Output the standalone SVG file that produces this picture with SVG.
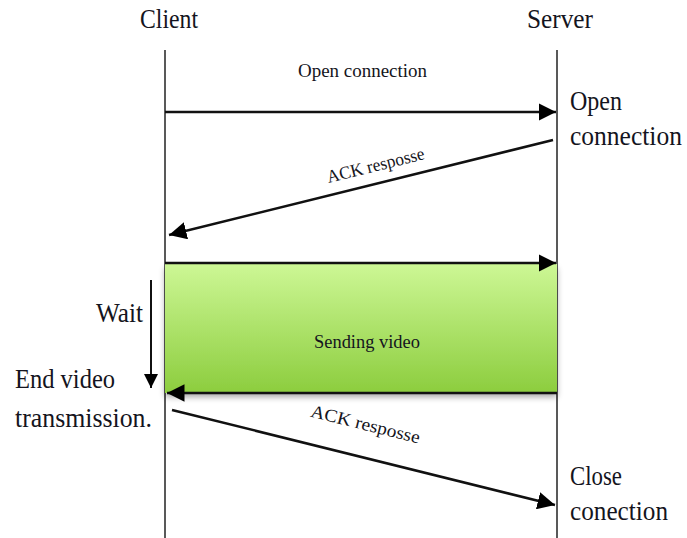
<svg xmlns="http://www.w3.org/2000/svg" width="687" height="538" viewBox="0 0 687 538">
<style>
.t{font-family:"Liberation Serif","DejaVu Serif",serif;fill:#141420}
.big{font-size:27px}
.sm{font-size:18px}
.ln{stroke:#111;stroke-width:2.5;fill:none}
.life{stroke:#222;stroke-width:1.5;fill:none}
</style>
<defs>
<marker id="ah" viewBox="0 0 10 10" refX="10" refY="5" markerWidth="7" markerHeight="7" markerUnits="strokeWidth" orient="auto">
<path d="M0,0 L10,5 L0,10 z" fill="#000"/>
</marker>
<linearGradient id="g" x1="0" y1="0" x2="0" y2="1">
<stop offset="0" stop-color="#cdf795"/>
<stop offset="1" stop-color="#8ccd3e"/>
</linearGradient>
<filter id="sh" x="-5%" y="-10%" width="110%" height="130%">
<feGaussianBlur in="SourceAlpha" stdDeviation="3"/>
<feOffset dy="4"/>
<feComponentTransfer><feFuncA type="linear" slope="0.35"/></feComponentTransfer>
<feMerge><feMergeNode/><feMergeNode in="SourceGraphic"/></feMerge>
</filter>
</defs>
<rect width="687" height="538" fill="#fff"/>
<g id="client">
<line class="life" x1="165" y1="50" x2="165" y2="538"/>
<text class="t big" x="140" y="28" textLength="58" lengthAdjust="spacingAndGlyphs">Client</text>
</g>
<g id="server">
<line class="life" x1="557" y1="50" x2="557" y2="538"/>
<text class="t big" x="527" y="28" textLength="66" lengthAdjust="spacingAndGlyphs">Server</text>
</g>
<g id="sending">
<rect x="165" y="264" width="392" height="129" fill="url(#g)" filter="url(#sh)"/>
<text class="t sm" x="314" y="348" textLength="106" lengthAdjust="spacingAndGlyphs">Sending video</text>
</g>
<g id="labels">
<text class="t big" x="570" y="110" textLength="52" lengthAdjust="spacingAndGlyphs">Open</text>
<text class="t big" x="570" y="145" textLength="112" lengthAdjust="spacingAndGlyphs">connection</text>
<text class="t big" x="96" y="322" textLength="47" lengthAdjust="spacingAndGlyphs">Wait</text>
<text class="t big" x="15" y="388" textLength="100" lengthAdjust="spacingAndGlyphs">End video</text>
<text class="t big" x="15" y="427" textLength="137" lengthAdjust="spacingAndGlyphs">transmission.</text>
<text class="t big" x="570" y="485" textLength="52" lengthAdjust="spacingAndGlyphs">Close</text>
<text class="t big" x="570" y="520" textLength="98" lengthAdjust="spacingAndGlyphs">conection</text>
</g>
<g id="connectors">
<line class="ln" x1="165" y1="112" x2="556" y2="112" marker-end="url(#ah)"/>
<text class="t sm" x="298" y="77" textLength="129" lengthAdjust="spacingAndGlyphs">Open connection</text>
<line class="ln" x1="553" y1="140" x2="169" y2="235" marker-end="url(#ah)"/>
<text class="t sm" transform="translate(377,171) rotate(-14)" text-anchor="middle" textLength="100" lengthAdjust="spacingAndGlyphs">ACK resposse</text>
<line class="ln" x1="165" y1="263" x2="556" y2="263" marker-end="url(#ah)"/>
<line class="ln" x1="557" y1="393" x2="167" y2="393" marker-end="url(#ah)"/>
<line class="ln" x1="151" y1="280" x2="151" y2="388" marker-end="url(#ah)" style="stroke-width:2"/>
<line class="ln" x1="172" y1="410" x2="555" y2="505" marker-end="url(#ah)"/>
<text class="t sm" transform="translate(364,430) rotate(14)" text-anchor="middle" textLength="112" lengthAdjust="spacingAndGlyphs">ACK resposse</text>
</g>
</svg>
